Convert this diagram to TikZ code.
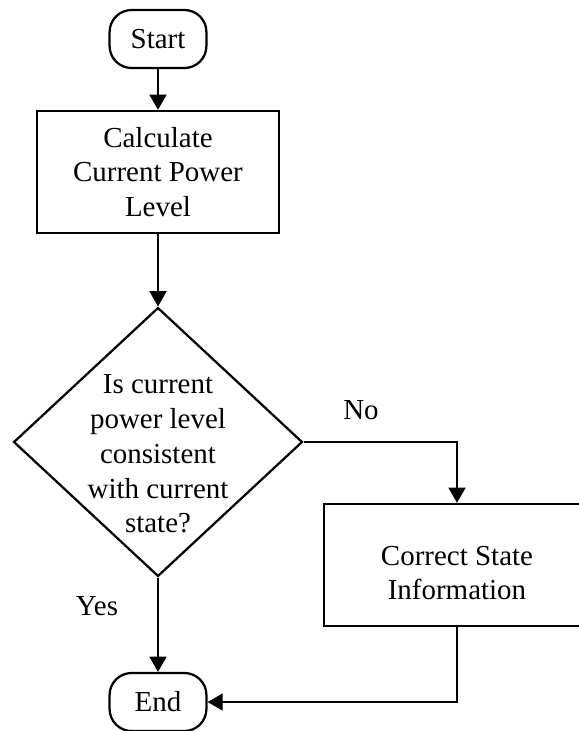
\documentclass[tikz,border=0pt]{standalone}
\usepackage{fontspec}
\setmainfont{Liberation Serif}
\usetikzlibrary{shapes.geometric,arrows.meta}

\begin{document}
\begin{tikzpicture}[x=0.025cm, y=-0.025cm, font=\fontsize{20.6}{24.7}\selectfont,
    line width=1.6pt, >={Triangle[length=3.8mm, width=4.2mm]},
    terminal/.style={draw, rounded corners=0.55cm, minimum width=2.42cm, minimum height=1.45cm, inner sep=0pt},
    process/.style={draw, minimum width=6.03cm, minimum height=3.05cm, align=center, inner sep=0pt},
    decision/.style={draw, diamond, minimum width=7.22cm, minimum height=6.72cm, inner sep=0pt}]
  \useasboundingbox (0,0) rectangle (579,731);
  % boxes
  \node[terminal] (start) at (158,39) {Start};
  \node[process] (calc) at (158,172) {Calculate\\Current Power\\Level};
  \node[decision] (check) at (158,442) {};
  \node[align=center, inner sep=0pt] (checktext) at (158,454) {Is current\\power level\\consistent\\with current\\state?};
  \node[process, minimum width=6.65cm] (fix) at (457,565) {};
  \node[align=center, inner sep=0pt] (fixtext) at (457,573) {Correct State\\Information};
  \node[terminal] (end) at (158,702) {End};
  % branch labels
  \node (no) at (361,410) {No};
  \node (yes) at (97,606) {Yes};
  % connectors
  \draw[->] (start) -- (calc);
  \draw[->] (calc) -- (check.north);
  \draw[->] (check.south) -- (end);
  \draw[->] (check.east) -| (fix.north);
  \draw[->] (fix.south) |- (end.east);
\end{tikzpicture}
\end{document}
